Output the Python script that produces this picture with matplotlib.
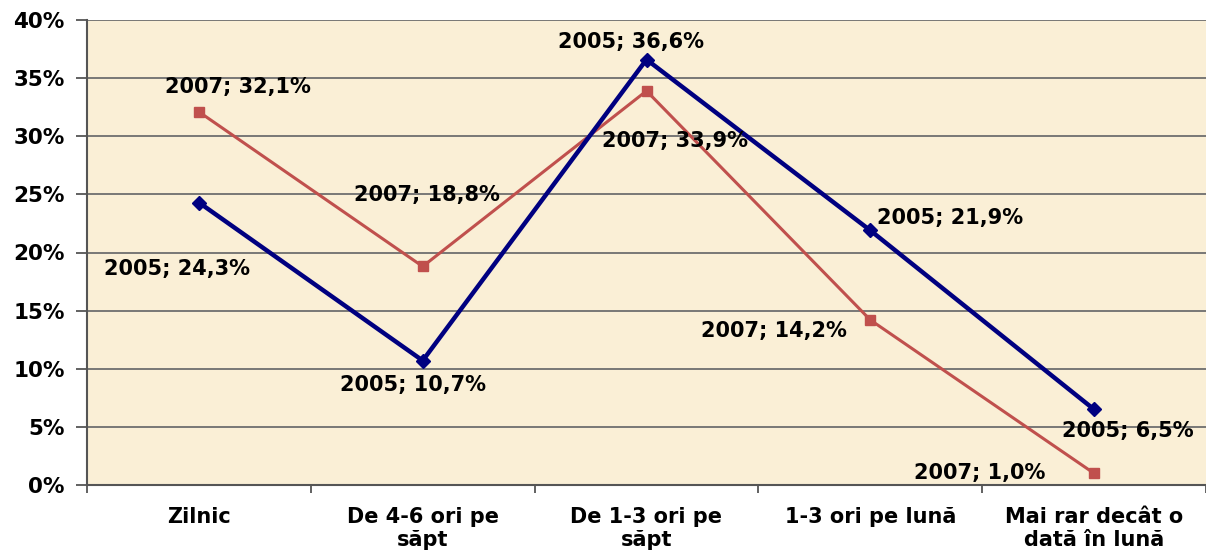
import matplotlib
matplotlib.use("Agg")
import matplotlib.pyplot as plt
from matplotlib.ticker import FuncFormatter, FixedLocator, MultipleLocator

categories = ["Zilnic", "De 4-6 ori pe\nsăpt", "De 1-3 ori pe\nsăpt", "1-3 ori pe lună", "Mai rar decât o\ndată în lună"]
series_names = ["2005", "2007"]
values_2005 = [24.3, 10.7, 36.6, 21.9, 6.5]
values_2007 = [32.1, 18.8, 33.9, 14.2, 1.0]

plt.rcParams['font.family'] = ['DejaVu Sans']
plt.rcParams['font.weight'] = 'bold'

FS = 15

fig = plt.figure(figsize=(12.06, 5.52), dpi=100)
ax = fig.add_axes([87/1206, 1 - 485/552, 1 - 87/1206, (485 - 20)/552])
ax.set_facecolor('#FAEFD6')

x = list(range(len(categories)))
ax.plot(x, values_2005, color='#000080', lw=3.2, marker='D', ms=7, zorder=4)
ax.plot(x, values_2007, color='#C0504D', lw=2.2, marker='s', ms=7.5, zorder=3)

ax.set_xlim(-0.5, len(categories) - 0.5)
ax.set_ylim(0, 40)
ax.yaxis.set_major_locator(MultipleLocator(5))
ax.yaxis.set_major_formatter(FuncFormatter(lambda v, p: f"{int(round(v))}%"))
ax.grid(axis='y', color='#6E6E6E', lw=1.3)
ax.set_axisbelow(True)

ax.set_xticks(x)
ax.set_xticklabels(categories, fontsize=FS, fontweight='bold', linespacing=1.15)
ax.tick_params(axis='x', length=0, pad=16)
ax.xaxis.set_minor_locator(FixedLocator([i - 0.5 for i in range(len(categories) + 1)]))
ax.tick_params(axis='x', which='minor', length=6, width=1.3, color='#555555', direction='out')
ax.tick_params(axis='y', length=8, width=1.3, color='#555555', labelsize=15.5, pad=8)
for lab in ax.get_yticklabels():
    lab.set_fontweight('bold')

for s in ['top', 'right']:
    ax.spines[s].set_visible(False)
ax.spines['left'].set_color('#555555')
ax.spines['left'].set_linewidth(1.5)
ax.spines['bottom'].set_color('#555555')
ax.spines['bottom'].set_linewidth(1.5)

def fmt(v):
    return f"{v:.1f}".replace('.', ',') + "%"

off_2005 = [(-22, -66), (-10, -24), (-16, 18), (80, 12), (34, -22)]
off_2007 = [(39, 25), (4, 71), (28, -50), (-96, -11), (-114, 0)]
for i in x:
    ax.annotate(f"{series_names[0]}; {fmt(values_2005[i])}", (i, values_2005[i]),
                xytext=off_2005[i], textcoords='offset pixels', ha='center', va='center',
                fontsize=FS, fontweight='bold', zorder=6)
    ax.annotate(f"{series_names[1]}; {fmt(values_2007[i])}", (i, values_2007[i]),
                xytext=off_2007[i], textcoords='offset pixels', ha='center', va='center',
                fontsize=FS, fontweight='bold', zorder=6)

fig.savefig("out.png", dpi=100)
